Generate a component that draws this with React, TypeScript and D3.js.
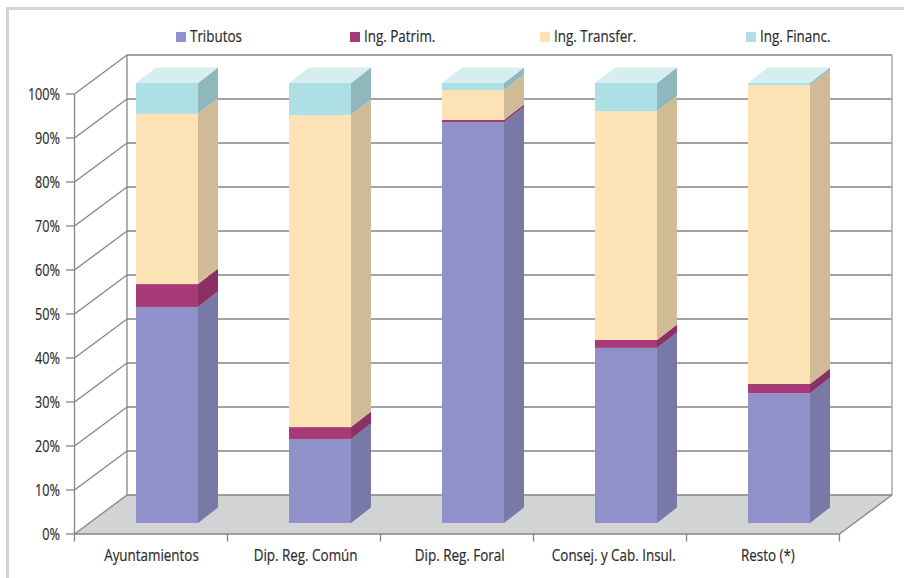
import React from "react";
import * as d3 from "d3";

const categories = ["Ayuntamientos", "Dip. Reg. Común", "Dip. Reg. Foral", "Consej. y Cab. Insul.", "Resto (*)"];
const seriesNames = ["Tributos", "Ing. Patrim.", "Ing. Transfer.", "Ing. Financ."];
const tributos = [49.1, 19.1, 91.1, 39.8, 29.5];
const patrim = [5.2, 2.7, 0.5, 1.8, 2.1];
const transfer = [38.7, 70.9, 6.8, 52.0, 67.9];
const financ = [7.0, 7.3, 1.6, 6.4, 0.5];
const tickValues = [0, 10, 20, 30, 40, 50, 60, 70, 80, 90, 100];

const frontColors = ["#8f91c8", "#a63b78", "#fde2b6", "#aedfe4"];
const sideColors = ["#7879a7", "#8a3064", "#d1bb97", "#8fb7bc"];
const topColor = "#d6eef0";
const gridColor = "#858585";
const textColor = "#2b2b2b";
const font = "'Open Sans', sans-serif";
const narrow = 0.79;

const y = d3.scaleLinear().domain([0, 100]).range([534, 94]);
const x = d3.scaleBand<number>().domain(d3.range(categories.length)).range([74.5, 839.5]);
const depthX = 52.5;
const depthY = -39;
const barDx = 20;
const barDy = -15.5;
const barLift = -11;
const barWidth = 62;
const barOffset = 16;

const rows = [tributos, patrim, transfer, financ];
const stacked = d3.stack<number>().keys(["0", "1", "2", "3"]).value((i, k) => rows[+k][i])(d3.range(categories.length));

const pts = (p: [number, number][]) => p.map((q) => q.join(",")).join(" ");

// Condensed label: Open Sans squeezed horizontally around its anchor point
function Label(props: { x: number; y: number; anchor: "start" | "middle" | "end"; size: number; text: string }) {
  return (
    <text
      transform={`translate(${props.x},${props.y}) scale(${narrow},1)`}
      textAnchor={props.anchor}
      fontSize={props.size}
      fill={textColor}
      stroke={textColor}
      strokeWidth={0.2}
    >
      {props.text}
    </text>
  );
}

export default function App() {
  const bw = x.bandwidth();
  const floorY = y(0);
  return (
    <svg width={904} height={578} style={{ position: "absolute", left: 0, top: 0 }} fontFamily={font}>
      <rect x={0} y={0} width={904} height={578} fill="#fff" />
      <path d="M7.5,578V8.5H904" fill="none" stroke="#d4d4d4" strokeWidth={3} />

      {/* floor of the 3D plot */}
      <polygon
        points={pts([[74.5, floorY], [74.5 + depthX, floorY + depthY], [839.5 + depthX, floorY + depthY], [839.5, floorY]])}
        fill="#d1d3d4"
      />

      {/* back and side walls */}
      {tickValues.map((t) => (
        <g key={t} stroke={gridColor} strokeWidth={1.3} fill="none">
          <line x1={74.5} y1={y(t)} x2={74.5 + depthX} y2={y(t) + depthY} />
          <line x1={74.5 + depthX} y1={y(t) + depthY} x2={839.5 + depthX} y2={y(t) + depthY} />
          <line x1={66} y1={y(t)} x2={74.5} y2={y(t)} />
        </g>
      ))}
      <line x1={74.5} y1={y(0)} x2={74.5} y2={y(100)} stroke={gridColor} strokeWidth={1.3} />
      <line x1={74.5 + depthX} y1={y(0) + depthY} x2={74.5 + depthX} y2={y(100) + depthY} stroke={gridColor} strokeWidth={1.3} />
      <line x1={839.5 + depthX} y1={y(0) + depthY} x2={839.5 + depthX} y2={y(100) + depthY} stroke="#a8a8a8" strokeWidth={1.5} />
      <line x1={74.5} y1={floorY} x2={839.5} y2={floorY} stroke={gridColor} strokeWidth={1.3} />
      <line x1={839.5} y1={floorY} x2={839.5 + depthX} y2={floorY + depthY} stroke={gridColor} strokeWidth={1.3} />
      {d3.range(categories.length + 1).map((i) => {
        const tx = 74.5 + i * bw;
        return <line key={i} x1={tx} y1={floorY} x2={tx} y2={floorY + 7.5} stroke={gridColor} strokeWidth={1.3} />;
      })}

      {/* stacked 3D columns */}
      {categories.map((c, i) => {
        const x0 = (x(i) as number) + (bw - barWidth) / 2 + barOffset;
        const x1 = x0 + barWidth;
        return (
          <g key={c}>
            {stacked.map((s, k) => {
              const y0 = y(s[i][0]) + barLift;
              const y1 = y(s[i][1]) + barLift;
              return (
                <g key={k}>
                  <polygon
                    points={pts([[x1, y0], [x1 + barDx, y0 + barDy], [x1 + barDx, y1 + barDy], [x1, y1]])}
                    fill={sideColors[k]}
                  />
                  <rect x={x0} y={y1} width={barWidth} height={y0 - y1} fill={frontColors[k]} />
                </g>
              );
            })}
            <polygon
              points={pts([
                [x0, y(100) + barLift],
                [x0 + barDx, y(100) + barLift + barDy],
                [x1 + barDx, y(100) + barLift + barDy],
                [x1, y(100) + barLift],
              ])}
              fill={topColor}
            />
          </g>
        );
      })}

      {/* value axis labels */}
      {tickValues.map((t) => (
        <Label key={t} x={60} y={y(t) + 5.5} anchor="end" size={16} text={`${t}%`} />
      ))}

      {/* category labels, spaced slightly wider than the axis bands */}
      {categories.map((c, i) => (
        <Label key={c} x={(x(i) as number) + bw / 2 + 0.5 + i * 1.1} y={561} anchor="middle" size={17} text={c} />
      ))}

      {/* legend */}
      {seriesNames.map((n, i) => {
        const lx = [176, 350, 540, 746][i];
        return (
          <g key={n}>
            <rect x={lx} y={32} width={10} height={10} fill={frontColors[i]} />
            <Label x={lx + 14} y={42} anchor="start" size={17} text={n} />
          </g>
        );
      })}
    </svg>
  );
}
